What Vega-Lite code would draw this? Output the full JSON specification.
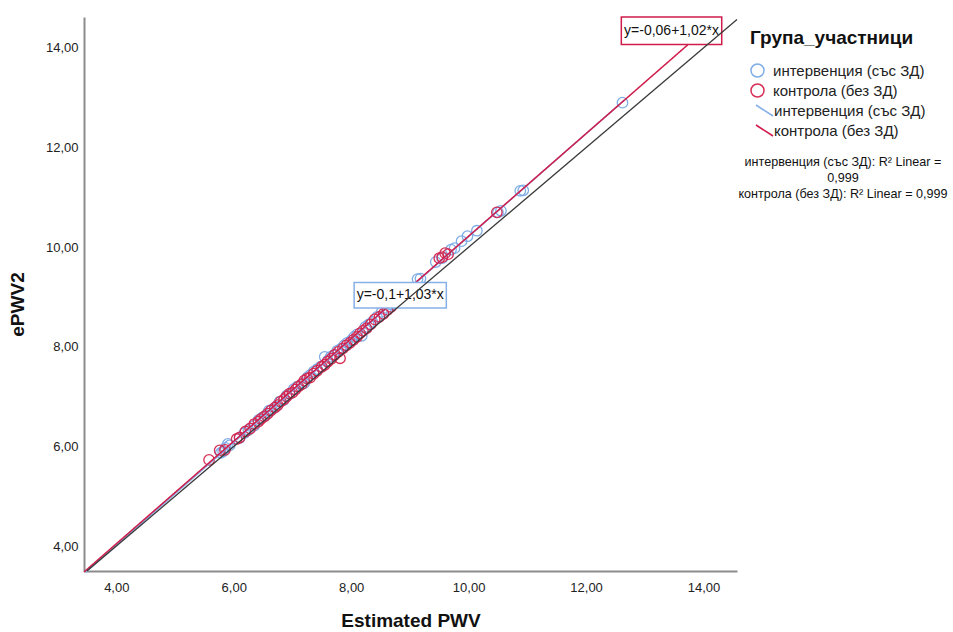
{
  "$schema": "https://vega.github.io/schema/vega-lite/v6.json",
  "width": 653,
  "height": 554,
  "autosize": {"type": "none"},
  "padding": {"left": 84, "top": 17, "right": 216, "bottom": 61},
  "background": "white",
  "config": {
    "view": {"stroke": null},
    "font": "Liberation Sans",
    "legend": {"padding": 0, "labelLimit": 300, "titleLimit": 400}
  },
  "datasets": {
    "pts": [
      {"group": "интервенция (със ЗД)", "EstimatedPWV": 5.78, "ePWV2": 5.87},
      {"group": "интервенция (със ЗД)", "EstimatedPWV": 5.82, "ePWV2": 5.9},
      {"group": "интервенция (със ЗД)", "EstimatedPWV": 5.86, "ePWV2": 5.97},
      {"group": "интервенция (със ЗД)", "EstimatedPWV": 5.9, "ePWV2": 6.05},
      {"group": "интервенция (със ЗД)", "EstimatedPWV": 5.93, "ePWV2": 6.02},
      {"group": "интервенция (със ЗД)", "EstimatedPWV": 6.1, "ePWV2": 6.17},
      {"group": "интервенция (със ЗД)", "EstimatedPWV": 6.18, "ePWV2": 6.27},
      {"group": "интервенция (със ЗД)", "EstimatedPWV": 6.25, "ePWV2": 6.33},
      {"group": "интервенция (със ЗД)", "EstimatedPWV": 6.35, "ePWV2": 6.42},
      {"group": "интервенция (със ЗД)", "EstimatedPWV": 6.42, "ePWV2": 6.53},
      {"group": "интервенция (със ЗД)", "EstimatedPWV": 6.48, "ePWV2": 6.58},
      {"group": "интервенция (със ЗД)", "EstimatedPWV": 6.55, "ePWV2": 6.63},
      {"group": "интервенция (със ЗД)", "EstimatedPWV": 6.6, "ePWV2": 6.72},
      {"group": "интервенция (със ЗД)", "EstimatedPWV": 6.65, "ePWV2": 6.74},
      {"group": "интервенция (със ЗД)", "EstimatedPWV": 6.72, "ePWV2": 6.8},
      {"group": "интервенция (със ЗД)", "EstimatedPWV": 6.78, "ePWV2": 6.9},
      {"group": "интервенция (със ЗД)", "EstimatedPWV": 6.85, "ePWV2": 6.93},
      {"group": "интервенция (със ЗД)", "EstimatedPWV": 6.9, "ePWV2": 7.02},
      {"group": "интервенция (със ЗД)", "EstimatedPWV": 6.95, "ePWV2": 7.05},
      {"group": "интервенция (със ЗД)", "EstimatedPWV": 7.02, "ePWV2": 7.15},
      {"group": "интервенция (със ЗД)", "EstimatedPWV": 7.08, "ePWV2": 7.2},
      {"group": "интервенция (със ЗД)", "EstimatedPWV": 7.15, "ePWV2": 7.24},
      {"group": "интервенция (със ЗД)", "EstimatedPWV": 7.2, "ePWV2": 7.27},
      {"group": "интервенция (със ЗД)", "EstimatedPWV": 7.25, "ePWV2": 7.38},
      {"group": "интервенция (със ЗД)", "EstimatedPWV": 7.3, "ePWV2": 7.43},
      {"group": "интервенция (със ЗД)", "EstimatedPWV": 7.36, "ePWV2": 7.5},
      {"group": "интервенция (със ЗД)", "EstimatedPWV": 7.42, "ePWV2": 7.55},
      {"group": "интервенция (със ЗД)", "EstimatedPWV": 7.48, "ePWV2": 7.6},
      {"group": "интервенция (със ЗД)", "EstimatedPWV": 7.55, "ePWV2": 7.8},
      {"group": "интервенция (със ЗД)", "EstimatedPWV": 7.6, "ePWV2": 7.72},
      {"group": "интервенция (със ЗД)", "EstimatedPWV": 7.65, "ePWV2": 7.8},
      {"group": "интервенция (със ЗД)", "EstimatedPWV": 7.7, "ePWV2": 7.83},
      {"group": "интервенция (със ЗД)", "EstimatedPWV": 7.76, "ePWV2": 7.92},
      {"group": "интервенция (със ЗД)", "EstimatedPWV": 7.82, "ePWV2": 7.96},
      {"group": "интервенция (със ЗД)", "EstimatedPWV": 7.88, "ePWV2": 8.03},
      {"group": "интервенция (със ЗД)", "EstimatedPWV": 7.93, "ePWV2": 8.08},
      {"group": "интервенция (със ЗД)", "EstimatedPWV": 8.0, "ePWV2": 8.13},
      {"group": "интервенция (със ЗД)", "EstimatedPWV": 8.05, "ePWV2": 8.2},
      {"group": "интервенция (със ЗД)", "EstimatedPWV": 8.1, "ePWV2": 8.25},
      {"group": "интервенция (със ЗД)", "EstimatedPWV": 8.18, "ePWV2": 8.22},
      {"group": "интервенция (със ЗД)", "EstimatedPWV": 8.24, "ePWV2": 8.4},
      {"group": "интервенция (със ЗД)", "EstimatedPWV": 8.3, "ePWV2": 8.45},
      {"group": "интервенция (със ЗД)", "EstimatedPWV": 8.36, "ePWV2": 8.5},
      {"group": "интервенция (със ЗД)", "EstimatedPWV": 8.44, "ePWV2": 8.6},
      {"group": "интервенция (със ЗД)", "EstimatedPWV": 8.52, "ePWV2": 8.7},
      {"group": "интервенция (със ЗД)", "EstimatedPWV": 8.6, "ePWV2": 8.78},
      {"group": "интервенция (със ЗД)", "EstimatedPWV": 8.68, "ePWV2": 8.85},
      {"group": "интервенция (със ЗД)", "EstimatedPWV": 9.13, "ePWV2": 9.36},
      {"group": "интервенция (със ЗД)", "EstimatedPWV": 9.18, "ePWV2": 9.37},
      {"group": "интервенция (със ЗД)", "EstimatedPWV": 9.44, "ePWV2": 9.7},
      {"group": "интервенция (със ЗД)", "EstimatedPWV": 9.55, "ePWV2": 9.78},
      {"group": "интервенция (със ЗД)", "EstimatedPWV": 9.7, "ePWV2": 9.95},
      {"group": "интервенция (със ЗД)", "EstimatedPWV": 9.76, "ePWV2": 9.98},
      {"group": "интервенция (със ЗД)", "EstimatedPWV": 9.88, "ePWV2": 10.12},
      {"group": "интервенция (със ЗД)", "EstimatedPWV": 9.98, "ePWV2": 10.22},
      {"group": "интервенция (със ЗД)", "EstimatedPWV": 10.14, "ePWV2": 10.33},
      {"group": "интервенция (със ЗД)", "EstimatedPWV": 10.5, "ePWV2": 10.7},
      {"group": "интервенция (със ЗД)", "EstimatedPWV": 10.55, "ePWV2": 10.73},
      {"group": "интервенция (със ЗД)", "EstimatedPWV": 10.88, "ePWV2": 11.13},
      {"group": "интервенция (със ЗД)", "EstimatedPWV": 10.93, "ePWV2": 11.14},
      {"group": "интервенция (със ЗД)", "EstimatedPWV": 12.62, "ePWV2": 12.9},
      {"group": "контрола (без ЗД)", "EstimatedPWV": 5.58, "ePWV2": 5.73},
      {"group": "контрола (без ЗД)", "EstimatedPWV": 5.76, "ePWV2": 5.92},
      {"group": "контрола (без ЗД)", "EstimatedPWV": 5.85, "ePWV2": 5.93},
      {"group": "контрола (без ЗД)", "EstimatedPWV": 6.05, "ePWV2": 6.15},
      {"group": "контрола (без ЗД)", "EstimatedPWV": 6.1, "ePWV2": 6.18},
      {"group": "контрола (без ЗД)", "EstimatedPWV": 6.2, "ePWV2": 6.3},
      {"group": "контрола (без ЗД)", "EstimatedPWV": 6.28, "ePWV2": 6.36},
      {"group": "контрола (без ЗД)", "EstimatedPWV": 6.35, "ePWV2": 6.45},
      {"group": "контрола (без ЗД)", "EstimatedPWV": 6.42, "ePWV2": 6.5},
      {"group": "контрола (без ЗД)", "EstimatedPWV": 6.46, "ePWV2": 6.55},
      {"group": "контрола (без ЗД)", "EstimatedPWV": 6.52, "ePWV2": 6.6},
      {"group": "контрола (без ЗД)", "EstimatedPWV": 6.58, "ePWV2": 6.66},
      {"group": "контрола (без ЗД)", "EstimatedPWV": 6.63, "ePWV2": 6.72},
      {"group": "контрола (без ЗД)", "EstimatedPWV": 6.7, "ePWV2": 6.78},
      {"group": "контрола (без ЗД)", "EstimatedPWV": 6.75, "ePWV2": 6.83},
      {"group": "контрола (без ЗД)", "EstimatedPWV": 6.8, "ePWV2": 6.9},
      {"group": "контрола (без ЗД)", "EstimatedPWV": 6.86, "ePWV2": 6.95},
      {"group": "контрола (без ЗД)", "EstimatedPWV": 6.9, "ePWV2": 7.0},
      {"group": "контрола (без ЗД)", "EstimatedPWV": 6.95, "ePWV2": 7.06},
      {"group": "контрола (без ЗД)", "EstimatedPWV": 7.0, "ePWV2": 7.08},
      {"group": "контрола (без ЗД)", "EstimatedPWV": 7.05, "ePWV2": 7.14},
      {"group": "контрола (без ЗД)", "EstimatedPWV": 7.1, "ePWV2": 7.2},
      {"group": "контрола (без ЗД)", "EstimatedPWV": 7.16, "ePWV2": 7.25},
      {"group": "контрола (без ЗД)", "EstimatedPWV": 7.2, "ePWV2": 7.32},
      {"group": "контрола (без ЗД)", "EstimatedPWV": 7.25, "ePWV2": 7.36},
      {"group": "контрола (без ЗД)", "EstimatedPWV": 7.3, "ePWV2": 7.38},
      {"group": "контрола (без ЗД)", "EstimatedPWV": 7.36, "ePWV2": 7.46},
      {"group": "контрола (без ЗД)", "EstimatedPWV": 7.42, "ePWV2": 7.52},
      {"group": "контрола (без ЗД)", "EstimatedPWV": 7.5, "ePWV2": 7.6},
      {"group": "контрола (без ЗД)", "EstimatedPWV": 7.55, "ePWV2": 7.64},
      {"group": "контрола (без ЗД)", "EstimatedPWV": 7.6, "ePWV2": 7.7},
      {"group": "контрола (без ЗД)", "EstimatedPWV": 7.66, "ePWV2": 7.76},
      {"group": "контрола (без ЗД)", "EstimatedPWV": 7.72, "ePWV2": 7.84},
      {"group": "контрола (без ЗД)", "EstimatedPWV": 7.78, "ePWV2": 7.9},
      {"group": "контрола (без ЗД)", "EstimatedPWV": 7.81, "ePWV2": 7.77},
      {"group": "контрола (без ЗД)", "EstimatedPWV": 7.86, "ePWV2": 7.97},
      {"group": "контрола (без ЗД)", "EstimatedPWV": 7.92, "ePWV2": 8.03},
      {"group": "контрола (без ЗД)", "EstimatedPWV": 7.98, "ePWV2": 8.08},
      {"group": "контрола (без ЗД)", "EstimatedPWV": 8.04, "ePWV2": 8.14},
      {"group": "контрола (без ЗД)", "EstimatedPWV": 8.1, "ePWV2": 8.2},
      {"group": "контрола (без ЗД)", "EstimatedPWV": 8.15, "ePWV2": 8.27},
      {"group": "контрола (без ЗД)", "EstimatedPWV": 8.2, "ePWV2": 8.32},
      {"group": "контрола (без ЗД)", "EstimatedPWV": 8.26, "ePWV2": 8.37},
      {"group": "контрола (без ЗД)", "EstimatedPWV": 8.33, "ePWV2": 8.45},
      {"group": "контрола (без ЗД)", "EstimatedPWV": 8.4, "ePWV2": 8.55},
      {"group": "контрола (без ЗД)", "EstimatedPWV": 8.48, "ePWV2": 8.6},
      {"group": "контрола (без ЗД)", "EstimatedPWV": 8.55, "ePWV2": 8.66},
      {"group": "контрола (без ЗД)", "EstimatedPWV": 8.62, "ePWV2": 8.74},
      {"group": "контрола (без ЗД)", "EstimatedPWV": 8.68, "ePWV2": 8.8},
      {"group": "контрола (без ЗД)", "EstimatedPWV": 9.5, "ePWV2": 9.78},
      {"group": "контрола (без ЗД)", "EstimatedPWV": 9.55, "ePWV2": 9.8},
      {"group": "контрола (без ЗД)", "EstimatedPWV": 9.6, "ePWV2": 9.88},
      {"group": "контрола (без ЗД)", "EstimatedPWV": 9.65, "ePWV2": 9.86},
      {"group": "контрола (без ЗД)", "EstimatedPWV": 10.48, "ePWV2": 10.7}
    ],
    "fits": [
      {"fit_group": "интервенция (със ЗД)", "r2": "R2", "EstimatedPWV": 3.47, "ePWV2": 3.47},
      {"fit_group": "интервенция (със ЗД)", "r2": "R2", "EstimatedPWV": 12.65, "ePWV2": 12.95},
      {"fit_group": "контрола (без ЗД)", "r2": "R2", "EstimatedPWV": 3.45, "ePWV2": 3.48},
      {"fit_group": "контрола (без ЗД)", "r2": "R2", "EstimatedPWV": 13.73, "ePWV2": 14.06}
    ],
    "boxes": [
      {"group": "контрола (без ЗД)", "eq": "y=-0,06+1,02*x", "bx1": 12.6, "bx2": 14.31, "by1": 14.07, "by2": 14.62, "EstimatedPWV": 13.455, "ePWV2": 14.33},
      {"group": "интервенция (със ЗД)", "eq": "y=-0,1+1,03*x", "bx1": 8.05, "bx2": 9.62, "by1": 8.78, "by2": 9.29, "EstimatedPWV": 8.835, "ePWV2": 9.03}
    ],
    "ref": [
      {"EstimatedPWV": 3.5, "ePWV2": 3.5},
      {"EstimatedPWV": 14.57, "ePWV2": 14.57}
    ]
  },
  "layer": [
    {
      "data": {"name": "pts"},
      "mark": {"type": "point", "filled": false, "size": 110, "strokeWidth": 1.3, "opacity": 0.95},
      "encoding": {
        "x": {
          "field": "EstimatedPWV", "type": "quantitative", "title": "Estimated PWV",
          "scale": {"domain": [3.45, 14.57], "nice": false, "zero": false},
          "axis": {
            "values": [4, 6, 8, 10, 12, 14],
            "labelExpr": "replace(format(datum.value, '.2f'), '.', ',')",
            "ticks": false, "grid": false,
            "domainColor": "#8c8c8c", "domainWidth": 2,
            "labelFontSize": 13, "labelColor": "#222222", "labelPadding": 10,
            "titleFontSize": 19, "titleFontWeight": "bold", "titleColor": "#111111", "titlePadding": 17
          }
        },
        "y": {
          "field": "ePWV2", "type": "quantitative", "title": "ePWV2",
          "scale": {"domain": [3.5, 14.62], "nice": false, "zero": false},
          "axis": {
            "values": [4, 6, 8, 10, 12, 14],
            "labelExpr": "replace(format(datum.value, '.2f'), '.', ',')",
            "ticks": false, "grid": false,
            "domainColor": "#8c8c8c", "domainWidth": 2,
            "labelFontSize": 13, "labelColor": "#222222", "labelPadding": 6,
            "titleFontSize": 19, "titleFontWeight": "bold", "titleColor": "#111111", "titlePadding": 18,
            "titleY": 287
          }
        },
        "color": {
          "field": "group", "type": "nominal",
          "scale": {"domain": ["интервенция (със ЗД)", "контрола (без ЗД)"], "range": ["#79a9e5", "#d5244e"]},
          "legend": {
            "title": "Група_участници", "orient": "none", "legendX": 666, "legendY": 12,
            "titleFontSize": 19, "titleFontWeight": "bold", "titleColor": "#111111", "titlePadding": 15,
            "symbolType": "circle", "symbolSize": 169, "symbolStrokeWidth": 1.5, "symbolFillColor": "transparent",
            "labelFontSize": 15, "labelColor": "#222222", "labelOffset": 8, "rowPadding": 1
          }
        }
      }
    },
    {
      "data": {"name": "fits"},
      "mark": {"type": "line", "strokeWidth": 1.5},
      "encoding": {
        "x": {"field": "EstimatedPWV", "type": "quantitative", "title": "Estimated PWV"},
        "y": {"field": "ePWV2", "type": "quantitative", "title": "ePWV2"},
        "stroke": {
          "field": "fit_group", "type": "nominal",
          "scale": {"range": ["#86b0e8", "#d01c4b"]},
          "legend": {
            "title": null, "orient": "none", "legendX": 671, "legendY": 84,
            "symbolType": "M-1,-0.65L1,0.65", "symbolSize": 289, "symbolStrokeWidth": 1.6,
            "labelFontSize": 15, "labelColor": "#222222", "labelOffset": 0, "rowPadding": 1
          }
        },
        "strokeDash": {
          "field": "r2", "type": "nominal",
          "scale": {"range": [[1, 0]]},
          "legend": {
            "title": ["интервенция (със ЗД): R² Linear =", "0,999", "контрола (без ЗД): R² Linear = 0,999"],
            "orient": "none", "legendX": 654, "legendY": 139,
            "titleFontSize": 12.6, "titleFontWeight": "normal", "titleColor": "#111111",
            "titleAlign": "center", "titleAnchor": "start", "titleLineHeight": 16,
            "symbolOpacity": 0, "labelExpr": "''"
          }
        }
      }
    },
    {
      "data": {"name": "boxes"},
      "transform": [{"filter": "datum.group === 'контрола (без ЗД)'"}],
      "mark": {"type": "rect", "fill": "white", "stroke": "#d01c4b", "strokeWidth": 1.5},
      "encoding": {
        "x": {"field": "bx1", "type": "quantitative", "title": "Estimated PWV"},
        "x2": {"field": "bx2"},
        "y": {"field": "by1", "type": "quantitative", "title": "ePWV2"},
        "y2": {"field": "by2"}
      }
    },
    {
      "data": {"name": "boxes"},
      "transform": [{"filter": "datum.group === 'интервенция (със ЗД)'"}],
      "mark": {"type": "rect", "fill": "white", "stroke": "#86b0e8", "strokeWidth": 1.5},
      "encoding": {
        "x": {"field": "bx1", "type": "quantitative", "title": "Estimated PWV"},
        "x2": {"field": "bx2"},
        "y": {"field": "by1", "type": "quantitative", "title": "ePWV2"},
        "y2": {"field": "by2"}
      }
    },
    {
      "data": {"name": "boxes"},
      "mark": {"type": "text", "fontSize": 14, "color": "#111111", "align": "center", "baseline": "middle"},
      "encoding": {
        "x": {"field": "EstimatedPWV", "type": "quantitative", "title": "Estimated PWV"},
        "y": {"field": "ePWV2", "type": "quantitative", "title": "ePWV2"},
        "text": {"field": "eq"}
      }
    },
    {
      "data": {"name": "ref"},
      "mark": {"type": "line", "color": "#3a3a3a", "strokeWidth": 1.3},
      "encoding": {
        "x": {"field": "EstimatedPWV", "type": "quantitative", "title": "Estimated PWV"},
        "y": {"field": "ePWV2", "type": "quantitative", "title": "ePWV2"}
      }
    }
  ]
}
